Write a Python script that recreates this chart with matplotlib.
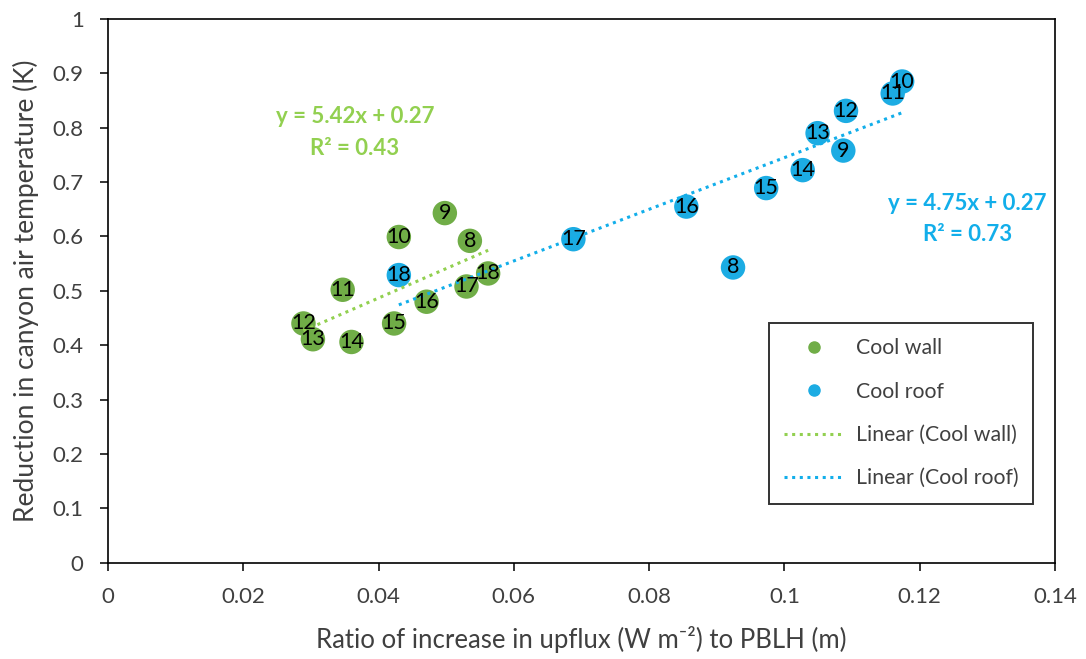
import matplotlib
matplotlib.use('Agg')
import matplotlib.pyplot as plt
from matplotlib.lines import Line2D
import numpy as np

plt.rcParams['font.family'] = ['Lato', 'DejaVu Sans']

hours = [8, 9, 10, 11, 12, 13, 14, 15, 16, 17, 18]
wall_x = [0.0535, 0.0498, 0.0430, 0.0347, 0.0289, 0.0303, 0.0360, 0.0423, 0.0471, 0.0530, 0.0562]
wall_y = [0.592, 0.643, 0.599, 0.502, 0.440, 0.411, 0.406, 0.440, 0.480, 0.508, 0.532]
roof_x = [0.0924, 0.1087, 0.1174, 0.1160, 0.1091, 0.1049, 0.1027, 0.0973, 0.0855, 0.0688, 0.0430]
roof_y = [0.543, 0.758, 0.885, 0.863, 0.831, 0.790, 0.722, 0.689, 0.655, 0.595, 0.529]
wall_fit = (5.42, 0.27, 0.43)
roof_fit = (4.75, 0.27, 0.73)

xticks = [0, 0.02, 0.04, 0.06, 0.08, 0.1, 0.12, 0.14]
yticks = [0, 0.1, 0.2, 0.3, 0.4, 0.5, 0.6, 0.7, 0.8, 0.9, 1]

GREEN = '#70AD47'
LGREEN = '#92D050'
BLUE = '#1CACE3'
LBLUE = '#12AEEA'
GREY = '#404040'

fig = plt.figure(figsize=(10.86, 6.59), dpi=100)
ax = fig.add_axes([0.0994, 0.1461, 0.8721, 0.8251])

ax.scatter(wall_x, wall_y, s=310, color=GREEN, edgecolors='none', zorder=2)
ax.scatter(roof_x, roof_y, s=310, color=BLUE, edgecolors='none', zorder=2)

for xs, fit, col in [(wall_x, wall_fit, LGREEN), (roof_x, roof_fit, LBLUE)]:
    xx = np.array([min(xs), max(xs)])
    ax.plot(xx, fit[0] * xx + fit[1], color=col, lw=2.2,
            linestyle=(0, (1, 1.5)), zorder=3)

for xs, ys in [(wall_x, wall_y), (roof_x, roof_y)]:
    for h, x, y in zip(hours, xs, ys):
        ax.text(x, y, str(h), ha='center', va='center', fontsize=15.5,
                color='black', zorder=4)

ax.text(0.0365, 0.792, f"y = {wall_fit[0]:.2f}x + {wall_fit[1]:.2f}\nR\u00b2 = {wall_fit[2]:.2f}",
        ha='center', va='center', fontsize=16, fontweight='bold', color=LGREEN,
        linespacing=1.65)
ax.text(0.1270, 0.632, f"y = {roof_fit[0]:.2f}x + {roof_fit[1]:.2f}\nR\u00b2 = {roof_fit[2]:.2f}",
        ha='center', va='center', fontsize=16, fontweight='bold', color=LBLUE,
        linespacing=1.55)

ax.set_xlim(0, 0.14)
ax.set_ylim(0, 1)
ax.set_xticks(xticks)
ax.set_xticklabels([f"{t:g}" for t in xticks])
ax.set_yticks(yticks)
ax.set_yticklabels([f"{t:g}" for t in yticks])
ax.tick_params(axis='both', direction='out', length=5.5, width=1.1, labelsize=16,
               pad=12, color='black', labelcolor=GREY)
for sp in ax.spines.values():
    sp.set_linewidth(1.2)
    sp.set_color('black')

ax.set_xlabel('Ratio of increase in upflux (W m\u207b\u00b2) to PBLH (m)', fontsize=18.5,
              color=GREY, labelpad=14)
ax.set_ylabel('Reduction in canyon air temperature (K)', fontsize=19,
              color=GREY, labelpad=10)

handles = [
    Line2D([], [], marker='o', ls='none', color=GREEN, markersize=8),
    Line2D([], [], marker='o', ls='none', color=BLUE, markersize=8),
    Line2D([], [], color=LGREEN, lw=2.2, linestyle=(0, (1, 1.5))),
    Line2D([], [], color=LBLUE, lw=2.2, linestyle=(0, (1, 1.5))),
]
labels = ['Cool wall', 'Cool roof', 'Linear (Cool wall)', 'Linear (Cool roof)']
leg = ax.legend(handles, labels, loc='upper left', bbox_to_anchor=(0.698, 0.441),
                fontsize=15.3, frameon=True, fancybox=False, edgecolor='black',
                labelspacing=1.1, handlelength=2.8, handletextpad=0.55,
                borderpad=0.72, borderaxespad=0)
leg.get_frame().set_linewidth(1.4)
for t in leg.get_texts():
    t.set_color(GREY)

fig.savefig('out.png', dpi=100, facecolor='white')
